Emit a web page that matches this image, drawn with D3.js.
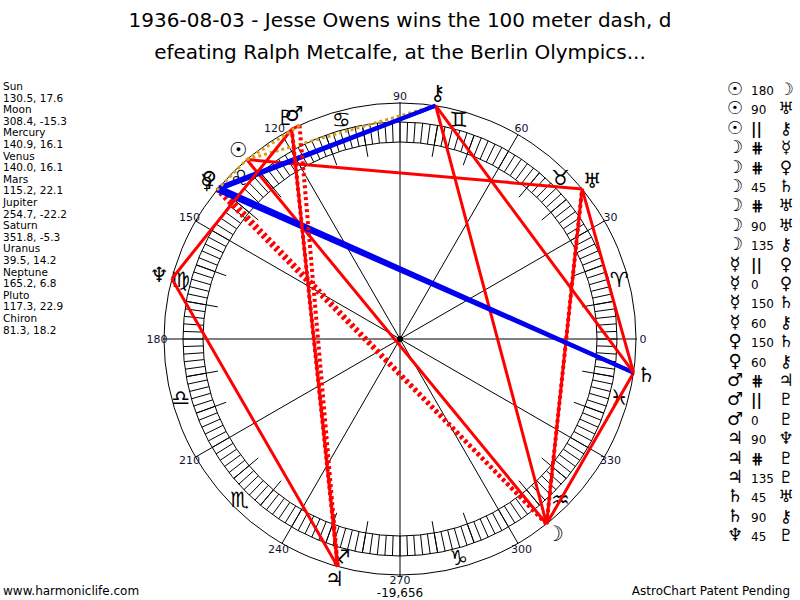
<!DOCTYPE html>
<html>
<head>
<meta charset="utf-8">
<script src="https://cdn.jsdelivr.net/npm/d3@7"></script>
<style>
  body { margin: 0; background: #fff; }
  svg { display: block; }
  text { font-family: "DejaVu Sans", Verdana, sans-serif; }
</style>
</head>
<body>
<div id="chart"></div>
<script>
// chart data
const titleLines = ["1936-08-03 - Jesse Owens wins the 100 meter dash, d",
                    "efeating Ralph Metcalfe, at the Berlin Olympics..."];
const planetNames = ["Sun", "Moon", "Mercury", "Venus", "Mars", "Jupiter", "Saturn", "Uranus", "Neptune", "Pluto", "Chiron"];
const planetGlyphs = ["\u2609", "\u263D", "\u263F", "\u2640", "\u2642", "\u2643", "\u2644", "\u2645", "\u2646", "\u2647", "\u26B7"];
const longitudes = [130.5, 308.4, 140.9, 140.0, 115.2, 254.7, 351.8, 39.5, 165.2, 117.3, 81.3];
const declinations = [17.6, -15.3, 16.1, 16.1, 22.1, -22.2, -5.3, 14.2, 6.8, 22.9, 18.2];
const signGlyphs = ["\u2648", "\u2649", "\u264A", "\u264B", "\u264C", "\u264D", "\u264E", "\u264F", "\u2650", "\u2651", "\u2652", "\u2653"];
const signMidpoints = [15, 45, 75, 105, 135, 165, 195, 225, 255, 285, 315, 345];
const degreeLabels = [0, 30, 60, 90, 120, 150, 180, 210, 240, 270, 300, 330];
const aspectFrom = ["Sun", "Sun", "Sun", "Moon", "Moon", "Moon", "Moon", "Moon", "Moon", "Mercury", "Mercury", "Mercury",
                    "Mercury", "Venus", "Venus", "Mars", "Mars", "Mars", "Jupiter", "Jupiter", "Jupiter", "Saturn", "Saturn", "Neptune"];
const aspectType = ["180", "90", "||", "#", "#", "45", "#", "90", "135", "||", "0", "150",
                    "60", "150", "60", "#", "||", "0", "90", "#", "135", "45", "90", "45"];
const aspectTo = ["Moon", "Uranus", "Chiron", "Mercury", "Venus", "Saturn", "Uranus", "Uranus", "Chiron", "Venus", "Venus", "Saturn",
                  "Chiron", "Saturn", "Chiron", "Jupiter", "Pluto", "Pluto", "Neptune", "Pluto", "Pluto", "Uranus", "Chiron", "Pluto"];
// parallels drawn on the wheel but below the end of the list
const extraFrom = ["Mercury", "Sun"];
const extraType = ["||", "||"];
const extraTo = ["Sun", "Mars"];
const footerLeft = "www.harmoniclife.com";
const footerRight = "AstroChart Patent Pending";
const centerNote = "-19,656";

const width = 800, height = 600;
const cx = 400, cy = 339;
const rOuter = 236, rBandOut = 217, rBandIn = 197, rTick = 185;

const svg = d3.select("#chart").append("svg")
    .attr("width", width)
    .attr("height", height);

const angle = d3.scaleLinear().domain([0, 360]).range([0, 2 * Math.PI]);
const px = (deg, r) => cx + r * Math.cos(angle(deg));
const py = (deg, r) => cy - r * Math.sin(angle(deg));

// title
svg.append("g").selectAll("text")
    .data(titleLines)
    .join("text")
    .attr("x", 400)
    .attr("y", (d, i) => 27 + i * 32)
    .attr("text-anchor", "middle")
    .attr("font-size", 20)
    .text(d => d);

// wheel circles
const wheel = svg.append("g").attr("fill", "none").attr("stroke", "#000").attr("stroke-width", 1);
[rOuter, rBandOut, rBandIn].forEach(r => {
    wheel.append("circle").attr("cx", cx).attr("cy", cy).attr("r", r);
});

// hatching in the band, every 2 degrees
wheel.append("g").selectAll("line")
    .data(d3.range(0, 360, 2))
    .join("line")
    .attr("x1", d => px(d, rBandIn)).attr("y1", d => py(d, rBandIn))
    .attr("x2", d => px(d, rBandOut)).attr("y2", d => py(d, rBandOut));

// 10 degree ticks
wheel.append("g").selectAll("line")
    .data(d3.range(0, 360, 10).filter(d => d % 30 !== 0))
    .join("line")
    .attr("x1", d => px(d, rTick)).attr("y1", d => py(d, rTick))
    .attr("x2", d => px(d, rBandOut)).attr("y2", d => py(d, rBandOut));

// 30 degree spokes
wheel.append("g").selectAll("line")
    .data(degreeLabels)
    .join("line")
    .attr("x1", cx).attr("y1", cy)
    .attr("x2", d => px(d, rOuter + (d % 90 === 0 ? 1 : 0))).attr("y2", d => py(d, rOuter + (d % 90 === 0 ? 1 : 0)));

svg.append("circle").attr("cx", cx).attr("cy", cy).attr("r", 3).attr("fill", "#000");

// degree labels
svg.append("g").selectAll("text")
    .data(degreeLabels)
    .join("text")
    .attr("x", d => px(d, 243) + (d === 120 ? -4 : 0))
    .attr("y", d => py(d, 243) + (d === 270 ? -2 : 0))
    .attr("text-anchor", "middle")
    .attr("dominant-baseline", "central")
    .attr("font-size", 11)
    .attr("fill", "#101030")
    .text(d => d);

// sign glyphs
svg.append("g").selectAll("text")
    .data(signMidpoints)
    .join("text")
    .attr("x", d => px(d, 227))
    .attr("y", d => py(d, 227))
    .attr("text-anchor", "middle")
    .attr("dominant-baseline", "central")
    .attr("font-size", 21)
    .text((d, i) => signGlyphs[i] + "\uFE0E");

// planet glyphs outside the wheel
svg.append("g").selectAll("text")
    .data(longitudes)
    .join("text")
    .attr("x", d => px(d, 249))
    .attr("y", d => py(d, 249))
    .attr("text-anchor", "middle")
    .attr("dominant-baseline", "central")
    .attr("font-size", 21)
    .text((d, i) => planetGlyphs[i] + "\uFE0E");

// aspect lines
const lon = name => longitudes[planetNames.indexOf(name)];
function lineStyle(t) {
    if (t === "60" || t === "150") return {stroke: "#0000ee", width: 4, dash: null};
    if (t === "||") return {stroke: "#d4a020", width: 3, dash: "3,3"};
    if (t === "#") return {stroke: "#ff0000", width: 4, dash: "3,3"};
    return {stroke: "#ff0000", width: 3, dash: null};
}
const aspectLines = aspectFrom.map((f, i) => ({from: f, type: aspectType[i], to: aspectTo[i]}))
    .concat(extraFrom.map((f, i) => ({from: f, type: extraType[i], to: extraTo[i]})));

svg.append("g").selectAll("line")
    .data(aspectLines)
    .join("line")
    .attr("x1", d => px(lon(d.from), rOuter)).attr("y1", d => py(lon(d.from), rOuter))
    .attr("x2", d => px(lon(d.to), rOuter)).attr("y2", d => py(lon(d.to), rOuter))
    .attr("stroke", d => lineStyle(d.type).stroke)
    .attr("stroke-width", d => lineStyle(d.type).width)
    .attr("stroke-dasharray", d => lineStyle(d.type).dash);

// planet positions list on the left
const leftRows = [];
planetNames.forEach((n, i) => {
    leftRows.push(n);
    leftRows.push(longitudes[i].toFixed(1) + ", " + declinations[i].toFixed(1));
});
svg.append("g").selectAll("text")
    .data(leftRows)
    .join("text")
    .attr("x", 3)
    .attr("y", (d, i) => 90 + i * 11.6)
    .attr("font-size", 10.5)
    .text(d => d);

// aspect list on the right
const glyphOf = name => planetGlyphs[planetNames.indexOf(name)] + "\uFE0E";
const rows = svg.append("g").selectAll("g")
    .data(aspectFrom.map((f, i) => ({from: f, type: aspectType[i], to: aspectTo[i]})))
    .join("g")
    .attr("transform", (d, i) => `translate(0,${95 + i * 19.4})`);
rows.append("text")
    .attr("x", 735).attr("text-anchor", "middle")
    .attr("font-size", 18)
    .attr("font-weight", d => d.from === "Sun" ? "bold" : "normal")
    .text(d => glyphOf(d.from));
rows.append("text")
    .attr("x", 751)
    .attr("font-size", d => (d.type === "||" || d.type === "#") ? 15 : 12)
    .attr("font-weight", d => (d.type === "||" || d.type === "#") ? "bold" : "normal")
    .text(d => d.type === "#" ? "\u22D5" : d.type);
rows.append("text")
    .attr("x", 786).attr("text-anchor", "middle")
    .attr("font-size", 17)
    .text(d => glyphOf(d.to));

// footer
svg.append("text").attr("x", 3).attr("y", 595).attr("font-size", 12).text(footerLeft);
svg.append("text").attr("x", 790).attr("y", 595).attr("font-size", 12).attr("text-anchor", "end").text(footerRight);
svg.append("text").attr("x", 400).attr("y", 597).attr("font-size", 12).attr("text-anchor", "middle").text(centerNote);
</script>
</body>
</html>
